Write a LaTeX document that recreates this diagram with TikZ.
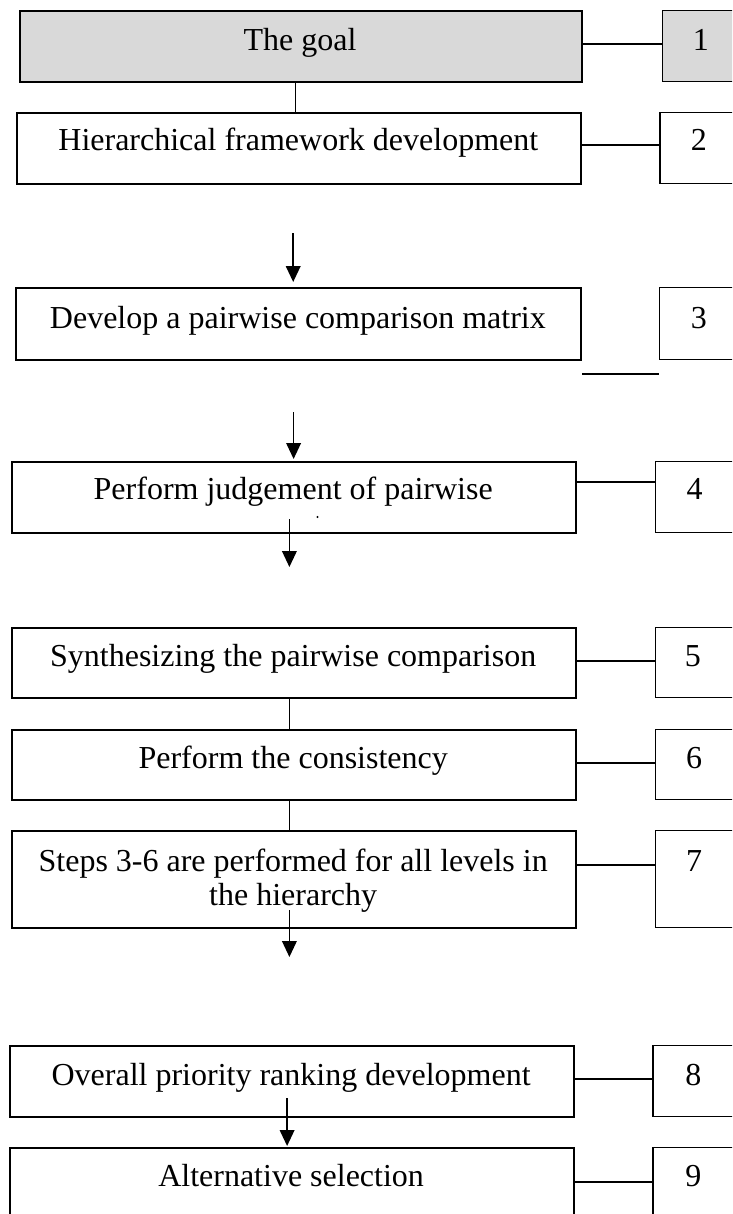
\documentclass[tikz,border=0pt]{standalone}
\usepackage{fontspec}
\setmainfont{Liberation Serif}
\usetikzlibrary{arrows.meta}
\definecolor{goalgray}{RGB}{217,217,217}
\begin{document}
\begin{tikzpicture}[x=0.75pt,y=-0.75pt,
  pbox/.style 2 args={draw, line width=1.5pt, rectangle, inner sep=0pt,
    anchor=north west, minimum width={#1*0.75pt}, minimum height={#2*0.75pt}},
  nbox/.style={line width=1.1pt},
  lbl/.style={anchor=base, inner sep=0pt, font=\fontsize{24}{26}\selectfont},
  conn/.style={line width=1.2pt},
  flow/.style={line width=1.2pt, -{Triangle[length=12pt,width=11pt]}}]
\useasboundingbox (0,0) rectangle (732,1214);
\clip (0,0) rectangle (732,1214);

% step boxes (left) and step numbers (right)
\node[pbox={562.5}{71}, fill=goalgray] (b1) at (18.7,10) {};
\node[pbox={120}{70.5}, nbox, fill=goalgray] (n1) at (661.5,10) {};
\node[pbox={564}{71}] (b2) at (16.3,112) {};
\node[pbox={120}{71}, nbox] (n2) at (659.2,112) {};
\node[pbox={565}{72}] (b3) at (15.4,287) {};
\node[pbox={120}{72}, nbox] (n3) at (658.7,287) {};
\node[pbox={564}{71}] (b4) at (11.2,461) {};
\node[pbox={120}{71}, nbox] (n4) at (655,461) {};
\node[pbox={564}{70}] (b5) at (11.2,627) {};
\node[pbox={120}{70}, nbox] (n5) at (655,627) {};
\node[pbox={564}{70}] (b6) at (11.2,729) {};
\node[pbox={120}{70}, nbox] (n6) at (655,729) {};
\node[pbox={564}{97}] (b7) at (11.2,830) {};
\node[pbox={120}{97}, nbox] (n7) at (655,830) {};
\node[pbox={563.5}{71}] (b8) at (9.3,1045) {};
\node[pbox={120}{71}, nbox] (n8) at (652.2,1045) {};
\node[pbox={563.5}{90}] (b9) at (9.3,1147) {};
\node[pbox={120}{90}, nbox] (n9) at (652.2,1147) {};

% labels
\node[lbl] (t1) at (300,50.5) {The goal};
\node[lbl] (t2) at (298.3,150.5) {Hierarchical framework development};
\node[lbl] (t3) at (297.9,328) {Develop a pairwise comparison matrix};
\node[lbl] (t4) at (293.2,499.5) {Perform judgement of pairwise};
\node[lbl] (t5) at (293.2,666) {Synthesizing the pairwise comparison};
\node[lbl] (t6) at (293.2,768) {Perform the consistency};
\node[lbl] (t7a) at (293.2,871.5) {Steps 3-6 are performed for all levels in};
\node[lbl] (t7b) at (293.2,905.7) {the hierarchy};
\node[lbl] (t8) at (291.1,1085) {Overall priority ranking development};
\node[lbl] (t9) at (291.1,1186.7) {Alternative selection};

\node[lbl] (m1) at (700.8,50.5) {1};
\node[lbl] (m2) at (698.9,150.5) {2};
\node[lbl] (m3) at (698.9,328) {3};
\node[lbl] (m4) at (694.7,499.5) {4};
\node[lbl] (m5) at (692.8,666) {5};
\node[lbl] (m6) at (694.2,768) {6};
\node[lbl] (m7) at (694.2,871.5) {7};
\node[lbl] (m8) at (693.3,1085) {8};
\node[lbl] (m9) at (693.3,1186.7) {9};

% remnant dot of a clipped second line
\fill (317.5,517) circle (0.9pt);

% links between step boxes and numbers
\draw[conn] (b1.east |- 0,43.8) -- (n1.west |- 0,43.8);
\draw[conn] (b2.east |- 0,145) -- (n2.west |- 0,145);
\draw[conn] (b3.east |- 0,374) -- (n3.west |- 0,374);
\draw[conn] (b4.east |- 0,482) -- (n4.west |- 0,482);
\draw[conn] (b5.east |- 0,661) -- (n5.west |- 0,661);
\draw[conn] (b6.east |- 0,763) -- (n6.west |- 0,763);
\draw[conn] (b7.east |- 0,865) -- (n7.west |- 0,865);
\draw[conn] (b8.east |- 0,1079) -- (n8.west |- 0,1079);
\draw[conn] (b9.east |- 0,1182) -- (n9.west |- 0,1182);

% vertical links between consecutive boxes
\draw[conn] (295.5,0 |- b1.south) -- (295.5,0 |- b2.north);
\draw[conn] (289.4,0 |- b5.south) -- (289.4,0 |- b6.north);
\draw[conn] (289.4,0 |- b6.south) -- (289.4,0 |- b7.north);

% flow arrows
\coordinate (a1) at (293.2,233);
\coordinate (a2) at (293.6,412);
\coordinate (a3s) at (289.4,519);
\coordinate (a3e) at (289.4,567);
\coordinate (a4s) at (289.4,910);
\coordinate (a4e) at (289.4,957);
\coordinate (a5) at (287.1,1098);
\draw[flow, shorten >=3.75pt] (a1) -- (a1 |- b3.north);
\draw[flow, shorten >=1.5pt] (a2) -- (a2 |- b4.north);
\draw[flow] (a3s) -- (a3e);
\draw[flow] (a4s) -- (a4e);
\draw[flow, shorten >=0.75pt] (a5) -- (a5 |- b9.north);
\end{tikzpicture}
\end{document}
